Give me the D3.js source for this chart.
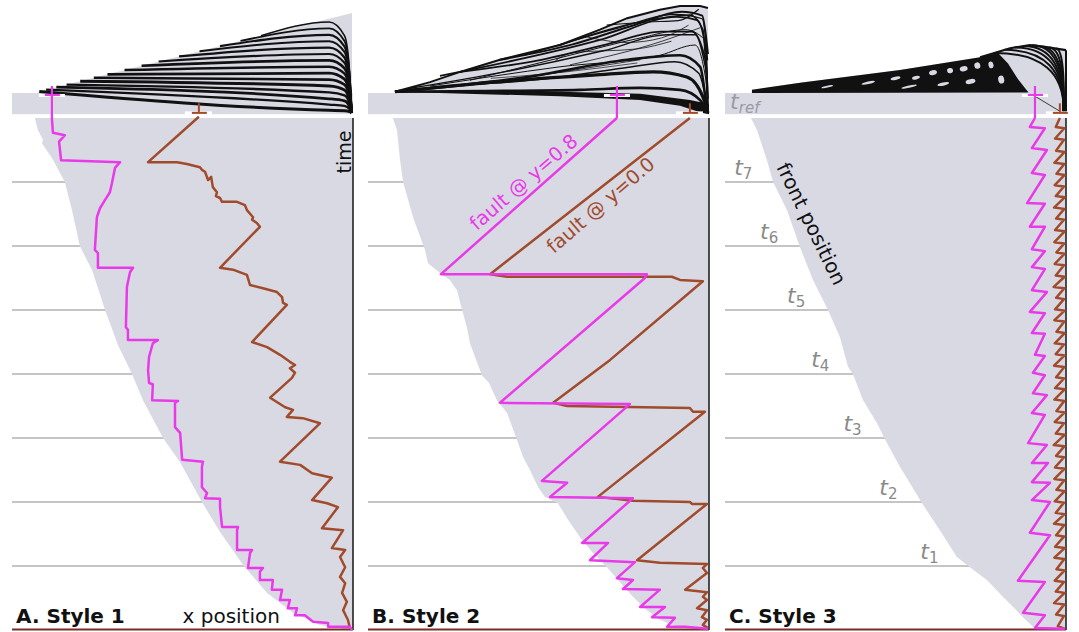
<!DOCTYPE html>
<html>
<head>
<meta charset="utf-8">
<script src="https://cdn.jsdelivr.net/npm/d3@7"></script>
<style>
  html, body { margin: 0; padding: 0; background: #fff; }
  svg { display: block; font-family: "DejaVu Sans", sans-serif; }
</style>
</head>
<body>
<svg id="chart" width="1079" height="632"></svg>
<script>
// ---------------- data (x = position 0..10, t = time 0..8, t_ref strip above 8) ----------------
const panelTitles = ["A. Style 1", "B. Style 2", "C. Style 3"];
const timeMarks = [1, 2, 3, 4, 5, 6, 7];
const timeLabels = ["1", "2", "3", "4", "5", "6", "7"];

// front position (left edge of the shaded domain), listed from t=8 down to t=0
const frontA = [[0.67,8.0],[0.76,7.81],[0.91,7.66],[0.88,7.60],[1.17,7.38],[1.55,7.0],[1.76,6.56],[1.99,6.0],
  [2.35,5.62],[2.73,5.0],[3.11,4.45],[3.52,4.0],[3.84,3.59],[4.43,3.0],[4.93,2.62],[5.57,2.0],[6.10,1.53],
  [6.80,1.0],[7.48,0.58],[8.24,0.27],[9.03,0.08],[9.91,0.0]];
const frontB = [[0.73,8.0],[0.85,7.81],[0.94,7.34],[1.03,7.0],[1.32,6.45],[1.67,5.94],[1.76,5.73],[2.11,5.58],
  [2.40,5.47],[2.61,5.31],[2.76,5.0],[2.90,4.73],[2.99,4.48],[3.34,3.98],[3.55,3.86],[3.78,3.59],[4.08,3.39],
  [4.37,2.97],[4.55,2.70],[4.75,2.50],[4.99,2.23],[5.19,2.08],[5.57,1.98],[5.87,1.72],[6.22,1.45],[6.60,1.20],
  [7.01,0.98],[7.33,0.78],[7.77,0.52],[8.18,0.31],[8.56,0.16],[9.06,0.05],[9.53,0.02],[9.97,0.0]];
const frontC = [[0.76,8.0],[0.94,7.81],[1.23,7.34],[1.41,7.0],[1.82,6.56],[2.20,5.98],[2.58,5.47],[3.02,5.0],
  [3.37,4.58],[3.61,4.11],[3.75,4.0],[4.05,3.59],[4.46,3.23],[4.69,2.98],[5.13,2.55],[5.78,1.98],[6.30,1.56],
  [6.80,1.14],[7.18,0.98],[7.68,0.78],[8.15,0.52],[8.45,0.36],[8.74,0.20],[9.03,0.05],[9.24,0.0]];

// fault traces: y=0.8 (magenta) and y=0.0 (brown)
const faultA_y08 = [[1.17,8.0],[1.20,7.77],[1.55,7.73],[1.38,7.63],[1.44,7.34],[3.17,7.31],[3.02,7.22],[2.93,6.98],
  [2.87,6.84],[2.73,6.72],[2.58,6.59],[2.49,6.45],[2.43,5.94],[2.52,5.89],[2.52,5.66],[3.55,5.66],[3.46,5.59],
  [3.37,5.36],[3.34,4.73],[3.40,4.69],[3.40,4.53],[4.28,4.53],[4.13,4.48],[4.02,4.27],[3.99,4.06],[4.02,3.86],
  [4.13,3.84],[4.11,3.59],[4.87,3.58],[4.78,3.55],[4.78,3.17],[4.93,3.08],[4.99,2.66],[5.60,2.63],[5.57,2.55],
  [5.57,2.23],[5.72,2.14],[5.66,2.06],[6.10,2.05],[6.10,1.92],[6.16,1.61],[6.63,1.61],[6.60,1.56],[6.60,1.25],
  [7.04,1.25],[6.98,1.20],[6.92,0.97],[7.36,0.97],[7.27,0.91],[7.27,0.78],[7.65,0.78],[7.62,0.63],[7.92,0.63],
  [7.86,0.47],[8.15,0.47],[8.09,0.34],[8.36,0.34],[8.30,0.23],[8.59,0.23],[8.83,0.13],[9.27,0.11],[9.27,0.05],
  [9.91,0.05],[9.97,0.0]];
const faultA_y00 = [[5.48,8.02],[3.99,7.31],[4.84,7.31],[5.13,7.28],[5.51,7.23],[5.57,7.19],[5.66,7.16],[5.75,7.03],
  [5.84,7.08],[5.89,6.92],[6.01,6.84],[5.98,6.78],[6.10,6.75],[6.16,6.69],[6.60,6.69],[6.83,6.64],[6.89,6.56],
  [7.07,6.45],[7.04,6.41],[7.18,6.36],[7.27,6.30],[6.10,5.66],[6.48,5.63],[6.89,5.55],[6.98,5.39],[7.36,5.34],
  [7.77,5.28],[7.92,5.20],[7.95,5.11],[8.06,5.08],[7.04,4.50],[7.48,4.42],[7.86,4.30],[8.15,4.19],[8.30,4.14],
  [8.15,4.09],[8.30,4.02],[8.21,3.94],[7.57,3.63],[8.01,3.48],[8.24,3.44],[8.06,3.33],[8.53,3.31],[9.03,3.23],
  [7.86,2.63],[8.45,2.58],[8.80,2.45],[9.38,2.38],[8.80,2.03],[9.24,1.98],[9.56,1.92],[9.09,1.59],[9.71,1.56],
  [9.38,1.28],[9.77,1.25],[9.62,1.14],[9.77,0.98],[9.62,0.83],[9.77,0.73],[9.68,0.58],[9.82,0.44],[9.71,0.31],
  [9.85,0.16],[9.91,0.03]];

const faultB_y08 = [[7.30,8.0],[2.14,5.56],[8.18,5.56],[8.12,5.50],[3.87,3.55],[7.68,3.53],[5.10,2.33],[5.84,2.30],
  [5.34,2.08],[7.77,2.06],[6.28,1.36],[7.04,1.36],[6.51,1.09],[7.83,1.06],[7.30,0.81],[7.77,0.78],[7.48,0.64],
  [8.56,0.63],[7.98,0.36],[8.71,0.36],[8.33,0.20],[9.00,0.19],[8.77,0.05],[9.30,0.05],[9.97,0.02]];
const faultB_y00 = [[9.44,8.0],[3.58,5.56],[4.08,5.52],[8.91,5.52],[9.15,5.47],[9.82,5.45],[7.10,4.22],[5.43,3.55],
  [5.84,3.50],[9.44,3.47],[9.53,3.41],[9.88,3.41],[6.74,2.08],[7.77,2.02],[9.44,2.00],[9.50,1.97],[9.94,1.97],
  [7.89,1.09],[8.56,1.05],[9.94,1.03],[9.82,0.97],[9.94,0.89],[9.30,0.63],[9.94,0.59],[9.82,0.52],[9.94,0.47],
  [9.65,0.34],[9.94,0.31],[9.79,0.20],[9.94,0.16],[9.82,0.08],[9.97,0.03]];

const faultC_y08 = [[9.09,8.0],[8.94,7.86],[9.38,7.84],[9.00,7.53],[9.44,7.50],[9.00,7.14],[9.38,7.11],[8.86,6.67],
  [9.38,6.66],[8.94,6.30],[9.38,6.30],[9.00,5.95],[9.38,5.92],[9.00,5.67],[9.38,5.64],[9.00,5.31],[9.44,5.28],
  [8.94,4.97],[9.38,4.95],[9.00,4.64],[9.38,4.63],[9.09,4.30],[9.38,4.28],[9.03,4.02],[9.38,3.98],[9.03,3.70],
  [9.44,3.67],[9.00,3.39],[9.38,3.36],[8.89,2.92],[9.44,2.89],[9.00,2.61],[9.47,2.61],[9.00,2.31],[9.53,2.30],
  [9.00,2.03],[9.53,2.00],[8.94,1.52],[9.53,1.48],[8.59,0.77],[9.38,0.75],[8.74,0.27],[9.38,0.23],[9.09,0.03],
  [9.97,0.02]];
const faultC_y00 = [[9.82,8.0],[9.70,7.86],[9.95,7.84],[9.68,7.68],[9.94,7.66],[9.71,7.49],[9.96,7.47],[9.66,7.30],
  [9.95,7.28],[9.72,7.13],[9.96,7.11],[9.67,6.95],[9.94,6.93],[9.70,6.78],[9.96,6.76],[9.65,6.60],[9.95,6.58],
  [9.71,6.43],[9.94,6.41],[9.68,6.25],[9.96,6.23],[9.66,6.06],[9.95,6.04],[9.72,5.90],[9.96,5.88],[9.67,5.72],
  [9.94,5.70],[9.70,5.54],[9.96,5.52],[9.64,5.36],[9.95,5.34],[9.71,5.19],[9.94,5.17],[9.68,5.01],[9.96,4.99],
  [9.66,4.84],[9.95,4.82],[9.72,4.66],[9.96,4.64],[9.67,4.48],[9.94,4.46],[9.70,4.31],[9.96,4.29],[9.65,4.13],
  [9.95,4.11],[9.71,3.95],[9.94,3.93],[9.68,3.78],[9.96,3.76],[9.66,3.60],[9.95,3.58],[9.72,3.42],[9.96,3.40],
  [9.67,3.25],[9.94,3.23],[9.70,3.07],[9.96,3.05],[9.64,2.89],[9.95,2.87],[9.71,2.72],[9.94,2.70],[9.68,2.54],
  [9.96,2.52],[9.66,2.36],[9.95,2.34],[9.72,2.19],[9.96,2.17],[9.67,2.01],[9.94,1.99],[9.70,1.83],[9.96,1.81],
  [9.65,1.66],[9.95,1.64],[9.71,1.48],[9.94,1.46],[9.68,1.30],[9.96,1.28],[9.66,1.13],[9.95,1.11],[9.72,0.95],
  [9.96,0.93],[9.67,0.77],[9.94,0.75],[9.70,0.60],[9.96,0.58],[9.65,0.42],[9.95,0.40],[9.71,0.24],[9.94,0.22],
  [9.76,0.06],[9.95,0.02]];

// slip history fans above the t_ref strip
const fanA_top = [[0.76,8.41],[9.97,9.64]];
const fanA_stripeStart = [0.8,1.0,1.3,1.6,2.0,2.4,2.8,3.3,3.8,4.3,4.9,5.5,6.1,6.7,7.3];
const fanA_stripeEnd = [8.12,8.21,8.30,8.40,8.50,8.60,8.70,8.80,8.90,9.00,9.10,9.20,9.30,9.40,9.50];
const fanA_stripeWidth = [3.0,2.2,2.8,2.4,3.0,2.6,2.8,2.4,2.6,2.2,2.4,2.0,2.2,1.8,1.6];

const fanB_top = [[0.79,8.41],[1.82,8.56],[2.70,8.72],[3.87,8.91],[5.63,9.14],[6.80,9.38],[7.60,9.56],
  [8.56,9.69],[9.15,9.75],[9.74,9.75],[9.97,9.72]];
const fanB_curves = [
  [[0.79,8.41],[3.67,8.56],[6.60,8.67],[8.36,8.72],[9.35,8.64],[9.82,8.33],[9.97,8.08]],
  [[0.79,8.41],[4.66,8.64],[7.60,8.91],[9.15,8.98],[9.74,8.80],[9.94,8.08]],
  [[2.11,8.66],[6.80,9.22],[9.06,9.58],[9.65,9.53],[9.91,9.06],[9.97,8.08]],
  [[5.63,9.14],[8.27,9.53],[9.44,9.61],[9.82,9.38],[9.97,8.08]],
  [[1.82,8.50],[5.63,8.80],[8.56,8.98],[9.59,9.14],[9.91,8.59],[9.97,8.08]],
  [[0.79,8.41],[3.28,8.42],[6.22,8.44],[7.98,8.47],[9.15,8.44],[9.74,8.28],[9.94,8.08]],
  [[2.99,8.59],[5.92,8.98],[7.98,9.25],[9.30,9.38],[9.88,9.22],[9.97,8.08]],
  [[5.92,8.83],[8.27,9.14],[9.74,9.41]],
  [[3.28,8.52],[7.98,8.91]],
  [[1.2,8.46],[4.0,8.72],[6.9,9.05],[8.8,9.30],[9.6,9.30],[9.93,8.7]],
  [[4.6,8.98],[7.3,9.40],[9.0,9.62],[9.8,9.55],[9.96,8.9]],
  [[3.87,8.91],[6.0,9.15],[7.8,9.45],[9.2,9.66],[9.8,9.60],[9.97,9.0]],
  [[2.70,8.72],[5.0,8.90],[7.0,9.15],[8.6,9.35],[9.5,9.35],[9.9,8.9],[9.97,8.3]],
  [[0.79,8.41],[2.5,8.50],[5.0,8.60],[7.5,8.78],[9.0,8.88],[9.7,8.70],[9.95,8.2]],
  [[6.3,9.28],[7.6,9.18],[8.6,9.25],[9.4,9.45]],
  [[5.5,8.90],[6.0,9.02],[7.9,9.08],[8.9,9.20]],
  [[7.0,9.45],[8.2,9.50],[9.1,9.52],[9.7,9.70]],
  [[3.6,8.62],[5.8,8.72],[7.9,8.86]]
];
const fanB_curveWidth = [3.2, 2.6, 1.8, 1.6, 1.0, 2.6, 1.0, 0.8, 0.8, 1.4, 1.2, 2.0, 1.8, 1.5, 0.8, 0.8, 1.2, 0.7];
const fanB_wedge = [[0.79,8.41],[5.63,8.34],[7.98,8.28],[9.15,8.19],[9.74,8.09],[10,8.06],[10,8.22],[9.44,8.28],
  [7.98,8.38],[5.63,8.41]];

const fanC_top = [[0.79,8.44],[2.20,8.55],[5.13,8.75],[7.48,8.95],[8.36,9.09],[8.94,9.14],[9.38,9.11],[10.0,9.06]];
const fanC_dark = [[0.79,8.44],[2.20,8.55],[5.13,8.75],[7.48,8.95],[8.0,9.02],[8.3,8.85],[8.6,8.6],[8.9,8.40],[0.79,8.39]];
const fanC_holes = [[3.0,8.49,6,1.0],[4.2,8.55,7,1.3],[5.0,8.62,5,1.6],[5.6,8.63,4,1.8],[6.1,8.71,4,2.4],
  [6.6,8.74,3,2.6],[7.0,8.77,4,2.6],[7.4,8.82,3,3.2],[7.8,8.83,2.5,3.4],[5.4,8.49,8,1.2],[6.4,8.53,6,1.6],
  [7.2,8.57,5,2.4],[8.1,8.6,3,4]];
const fanC_arcStart = [7.9, 8.2, 8.5, 8.75, 9.0, 9.25, 9.5, 9.7];

// ---------------- layout ----------------
const FILL = "#d9d9e4", MAGENTA = "#e83ae8", BROWN = "#a04b2c", GRID = "#8c8c8c", INK = "#111";
const panelLeft = [12, 368, 725], panelW = 341;
const bandTop = 8.39, bandBottom = 8.06;

const svg = d3.select("#chart");
const yT = d3.scaleLinear().domain([0, 8]).range([630, 118]);
const xScales = panelLeft.map(l => d3.scaleLinear().domain([0, 10]).range([l, l + panelW]));

function tOnPolyline(pts, x) {
  for (let i = 1; i < pts.length; i++) {
    if (x <= pts[i][0]) {
      const a = pts[i - 1], b = pts[i], f = (x - a[0]) / (b[0] - a[0]);
      return a[1] + f * (b[1] - a[1]);
    }
  }
  return pts[pts.length - 1][1];
}
function xOnFront(pts, t) {
  for (let i = 1; i < pts.length; i++) {
    const a = pts[i - 1], b = pts[i];
    if (t <= a[1] && t >= b[1]) {
      const f = (a[1] - t) / (a[1] - b[1] || 1);
      return a[0] + f * (b[0] - a[0]);
    }
  }
  return pts[pts.length - 1][0];
}

const panels = [
  { front: frontA, mag: faultA_y08, brn: faultA_y00 },
  { front: frontB, mag: faultB_y08, brn: faultB_y00 },
  { front: frontC, mag: faultC_y08, brn: faultC_y00 }
];

// fan drawing for each style
function drawFanA(g, x) {
  const line = d3.line().x(d => x(d[0])).y(d => yT(d[1])).curve(d3.curveMonotoneX);
  const poly = [[fanA_top[0][0], bandTop]].concat(fanA_top, [[fanA_top[1][0], bandTop]]);
  g.append("path").attr("d", d3.line().x(d => x(d[0])).y(d => yT(d[1]))(poly) + "Z").attr("fill", FILL);
  fanA_stripeStart.forEach((xs, i) => {
    const te = fanA_stripeEnd[i];
    const pts = [[xs, tOnPolyline(fanA_top, xs)], [9.3, te], [9.75, te - 0.15 * (te - 8.08)],
      [9.9, te - 0.55 * (te - 8.08)], [9.96, 8.08]];
    g.append("path").attr("d", line(pts)).attr("fill", "none")
      .attr("stroke", INK).attr("stroke-width", fanA_stripeWidth[i]);
  });
}
function drawFanB(g, x) {
  const lin = d3.line().x(d => x(d[0])).y(d => yT(d[1]));
  const smooth = d3.line().x(d => x(d[0])).y(d => yT(d[1])).curve(d3.curveMonotoneX);
  const poly = [[fanB_top[0][0], bandTop]].concat(fanB_top, [[fanB_top[fanB_top.length - 1][0], bandTop]]);
  g.append("path").attr("d", lin(poly) + "Z").attr("fill", FILL);
  fanB_curves.forEach((c, i) => {
    g.append("path").attr("d", smooth(c)).attr("fill", "none")
      .attr("stroke", INK).attr("stroke-width", fanB_curveWidth[i]);
  });
  g.append("path").attr("d", lin(fanB_top)).attr("fill", "none").attr("stroke", INK).attr("stroke-width", 2);
  g.append("path").attr("d", lin(fanB_wedge) + "Z").attr("fill", INK);
}
function drawFanC(g, x) {
  const lin = d3.line().x(d => x(d[0])).y(d => yT(d[1]));
  const poly = [[fanC_top[0][0], bandTop]].concat(fanC_top, [[fanC_top[fanC_top.length - 1][0], bandTop]]);
  g.append("path").attr("d", lin(poly) + "Z").attr("fill", FILL);
  g.append("path").attr("d", lin(fanC_dark) + "Z").attr("fill", INK);
  fanC_holes.forEach(h => {
    g.append("ellipse").attr("cx", x(h[0])).attr("cy", yT(h[1])).attr("rx", h[2]).attr("ry", h[3])
      .attr("transform", `rotate(-12,${x(h[0])},${yT(h[1])})`).attr("fill", FILL);
  });
  fanC_arcStart.forEach(x0 => {
    const t0 = tOnPolyline(fanC_top, x0);
    g.append("path")
      .attr("d", `M${x(x0)},${yT(t0)} Q${x(9.97)},${yT(t0)} ${x(9.93)},${yT(8.1)}`)
      .attr("fill", "none").attr("stroke", INK).attr("stroke-width", 2);
  });
  g.append("path").attr("d", lin(fanC_top.filter(p => p[0] >= 7.4))).attr("fill", "none")
    .attr("stroke", INK).attr("stroke-width", 2.2);
  g.append("line").attr("x1", x(10)).attr("x2", x(10)).attr("y1", yT(9.06)).attr("y2", yT(8.08))
    .attr("stroke", INK).attr("stroke-width", 2);
  g.append("line").attr("x1", x(faultC_y08[0][0])).attr("y1", yT(8.34))
    .attr("x2", x(9.9)).attr("y2", yT(8.08)).attr("stroke", INK).attr("stroke-width", 0.8);
}
const fanDrawers = [drawFanA, drawFanB, drawFanC];

panels.forEach((p, i) => {
  const x = xScales[i];
  const g = svg.append("g");
  const line = d3.line().x(d => x(d[0])).y(d => yT(d[1]));

  // t_ref strip and slip fan
  g.append("rect").attr("x", x(0)).attr("y", yT(bandTop)).attr("width", x(10) - x(0))
    .attr("height", yT(bandBottom) - yT(bandTop)).attr("fill", FILL);
  fanDrawers[i](g, x);

  // time levels
  timeMarks.forEach(k => {
    g.append("line").attr("x1", x(0)).attr("x2", x(10)).attr("y1", yT(k)).attr("y2", yT(k))
      .attr("stroke", GRID).attr("stroke-width", 1.2);
  });

  // domain behind the front
  g.append("path").attr("d", line(p.front.concat([[10, 0], [10, 8]])) + "Z").attr("fill", FILL);

  // frame: right edge and base
  g.append("line").attr("x1", x(10)).attr("x2", x(10)).attr("y1", yT(8)).attr("y2", yT(0))
    .attr("stroke", "#222").attr("stroke-width", 1.6);
  g.append("line").attr("x1", x(0)).attr("x2", x(10)).attr("y1", yT(0) - 0.5).attr("y2", yT(0) - 0.5)
    .attr("stroke", "#7a2d26").attr("stroke-width", 2.2);

  // fault traces
  g.append("path").attr("d", line(p.brn)).attr("fill", "none").attr("stroke", BROWN)
    .attr("stroke-width", 2.5).attr("stroke-linejoin", "round");
  g.append("path").attr("d", line(p.mag)).attr("fill", "none").attr("stroke", MAGENTA)
    .attr("stroke-width", 2.5).attr("stroke-linejoin", "round");

  // markers in the t_ref strip
  const mx = x(p.mag[0][0]), bx = x(p.brn[0][0]);
  g.append("rect").attr("x", mx - 13).attr("y", yT(8.36) - 1).attr("width", 26).attr("height", 3).attr("fill", "#fff");
  g.append("line").attr("x1", mx).attr("x2", mx).attr("y1", yT(8.5)).attr("y2", yT(8.0))
    .attr("stroke", MAGENTA).attr("stroke-width", 2.2);
  g.append("line").attr("x1", mx - 7).attr("x2", mx + 8).attr("y1", yT(8.36)).attr("y2", yT(8.36))
    .attr("stroke", MAGENTA).attr("stroke-width", 2);
  g.append("rect").attr("x", bx - 14).attr("y", yT(8.08) - 1.5).attr("width", 27).attr("height", 3).attr("fill", "#fff");
  g.append("line").attr("x1", bx).attr("x2", bx).attr("y1", yT(8.23)).attr("y2", yT(8.08))
    .attr("stroke", BROWN).attr("stroke-width", 2);
  g.append("line").attr("x1", bx - 7).attr("x2", bx + 8).attr("y1", yT(8.08)).attr("y2", yT(8.08))
    .attr("stroke", BROWN).attr("stroke-width", 2);

  // panel title
  g.append("text").attr("x", x(0.12)).attr("y", yT(0.11)).attr("font-size", 20).attr("font-weight", "bold")
    .attr("fill", INK).text(panelTitles[i]);
});

// annotations
(function () {
  const xA = xScales[0], xB = xScales[1], xC = xScales[2];
  svg.append("text").attr("x", xA(5.0)).attr("y", yT(0.11)).attr("font-size", 20).attr("fill", INK).text("x position");
  svg.append("text").attr("transform", `translate(${xA(9.94)},${yT(7.47)}) rotate(-90)`)
    .attr("text-anchor", "middle").attr("font-size", 19).attr("fill", INK).text("time");

  svg.append("text").attr("transform", `translate(${xB(4.69)},${yT(6.92)}) rotate(-40.7)`)
    .attr("text-anchor", "middle").attr("font-size", 19.5).attr("fill", MAGENTA).text("fault @ y=0.8");
  svg.append("text").attr("transform", `translate(${xB(6.95)},${yT(6.56)}) rotate(-40.7)`)
    .attr("text-anchor", "middle").attr("font-size", 19.5).attr("fill", BROWN).text("fault @ y=0.0");

  svg.append("text").attr("transform", `translate(${xC(2.35)},${yT(6.30)}) rotate(64)`)
    .attr("text-anchor", "middle").attr("font-size", 20).attr("fill", INK).text("front position");

  // time level labels t1..t7
  timeMarks.forEach((k, i) => {
    const xe = xC(xOnFront(frontC, k + 0.15)) - 18;
    const tx = svg.append("text").attr("x", xe).attr("y", yT(k) - 7).attr("text-anchor", "end")
      .attr("fill", "#8a8a8a").attr("font-size", 22);
    tx.append("tspan").attr("font-style", "italic").text("t");
    tx.append("tspan").attr("font-size", 15).attr("dy", 4).text(timeLabels[i]);
  });

  const tr = svg.append("text").attr("x", xC(0.15)).attr("y", yT(8.14)).attr("fill", "#9a9aa2").attr("font-size", 22);
  tr.append("tspan").attr("font-style", "italic").text("t");
  tr.append("tspan").attr("font-style", "italic").attr("font-size", 15).attr("dy", 4).text("ref");
})();
</script>
</body>
</html>
